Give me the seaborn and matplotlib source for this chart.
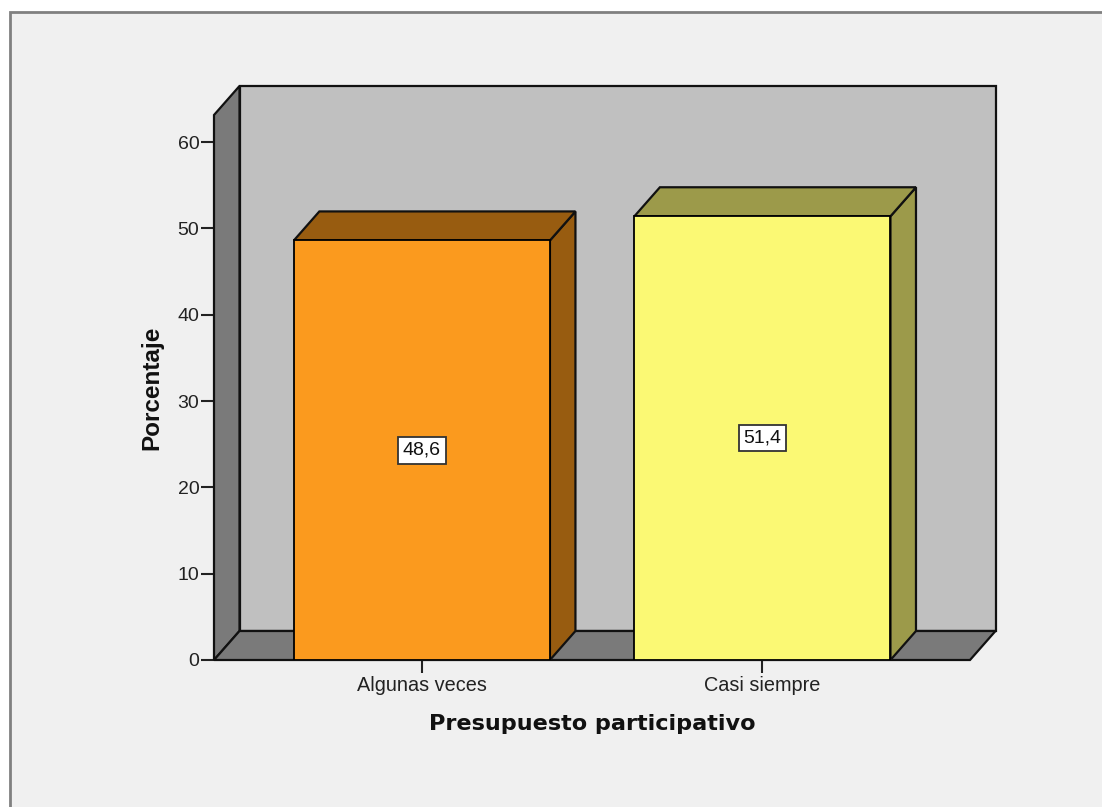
import matplotlib
matplotlib.use("Agg")
import matplotlib.pyplot as plt
from matplotlib.patches import Polygon, Rectangle
import pandas as pd
import seaborn as sns

# values
categorias = ["Algunas veces", "Casi siempre"]
porcentajes = [48.6, 51.4]
etiquetas = ["48,6", "51,4"]
ticks_y = [0, 10, 20, 30, 40, 50, 60]
colores = ["#FB9A1E", "#FBF974"]
colores_lado = ["#985C10", "#9C9A4A"]

W, H = 1102, 807
DX, DY = 25.5, 29  # 3d depth in pixels

sns.set_style("white")
plt.rcParams["font.family"] = ["Liberation Sans", "DejaVu Sans"]

df = pd.DataFrame({"categoria": categorias, "porcentaje": porcentajes})

fig = plt.figure(figsize=(W / 100, H / 100), dpi=100, facecolor="white")
# grey panel with the border on top and left only
fig.add_artist(Rectangle((9.5 / W, -0.01), 1, 1.01 - 12 / H, transform=fig.transFigure,
                         facecolor="#F0F0F0", edgecolor="#808080", linewidth=2, zorder=-1))

ax = fig.add_axes([214 / W, 1 - 660 / H, (970 - 214) / W, (660 - 115) / H])
sns.barplot(data=df, x="categoria", y="porcentaje", hue="categoria",
            palette=colores, legend=False, width=0.752, saturation=1,
            edgecolor="black", linewidth=1.3, ax=ax, zorder=5)
ax.set_xlim(-0.6105, 1.6095)
ax.set_ylim(0, 63.13)
ax.patch.set_alpha(0)

# depth in data units
ux = DX * (ax.get_xlim()[1] - ax.get_xlim()[0]) / (970 - 214)
uy = DY * ax.get_ylim()[1] / (660 - 115)
x0, x1 = ax.get_xlim()
y0, y1 = ax.get_ylim()


def cara(puntos, color, z):
    ax.add_patch(Polygon(puntos, closed=True, facecolor=color, edgecolor="#111111",
                         linewidth=1.6, clip_on=False, zorder=z))


barras = list(ax.patches[:2])

# back wall, left wall, floor
cara([(x0 + ux, y0 + uy), (x1 + ux, y0 + uy), (x1 + ux, y1 + uy), (x0 + ux, y1 + uy)], "#C0C0C0", 1)
cara([(x0, y0), (x0 + ux, y0 + uy), (x0 + ux, y1 + uy), (x0, y1)], "#7A7A7A", 2)
cara([(x0, y0), (x1, y0), (x1 + ux, y0 + uy), (x0 + ux, y0 + uy)], "#7A7A7A", 2)

# bar sides and tops, taken from the seaborn bars
for barra, c_lado, texto in zip(barras, colores_lado, etiquetas):
    a = barra.get_x()
    b = a + barra.get_width()
    h = barra.get_height()
    cara([(b, 0), (b + ux, uy), (b + ux, h + uy), (b, h)], c_lado, 3)
    cara([(a, h), (b, h), (b + ux, h + uy), (a + ux, h + uy)], c_lado, 3)
    ax.text((a + b) / 2, h / 2, texto, ha="center", va="center", fontsize=14,
            color="#111111", zorder=6,
            bbox=dict(boxstyle="square,pad=0.25", facecolor="white", edgecolor="#333333", linewidth=1.3))

for lado in ax.spines.values():
    lado.set_visible(False)

ax.set_yticks(ticks_y)
ax.tick_params(axis="y", left=True, length=9.5, width=1.5, color="#222222", pad=1, labelsize=14, labelcolor="#222222")
ax.tick_params(axis="x", bottom=True, length=9, width=1.5, color="#222222", pad=2.5, labelsize=14.3, labelcolor="#222222")

ax.set_xlabel("Presupuesto participativo", fontsize=16.1, fontweight="bold", labelpad=14,
              color="#111111", family="DejaVu Sans")
ax.set_ylabel("Porcentaje", fontsize=17.5, fontweight="bold", labelpad=10.5, color="#111111")

fig.savefig("out.png", dpi=100, facecolor=fig.get_facecolor())
